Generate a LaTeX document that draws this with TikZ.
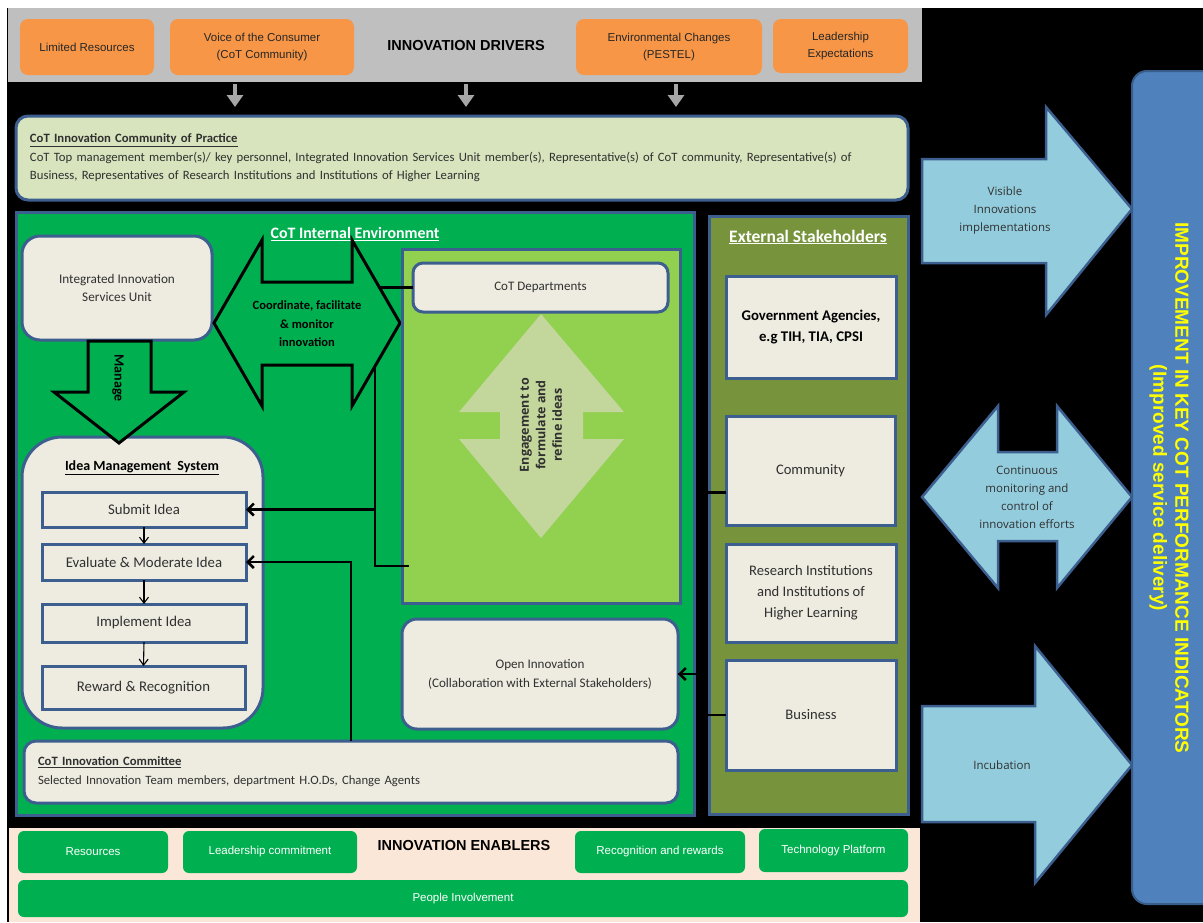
\documentclass[tikz,border=0pt]{standalone}
\usepackage{fontspec}
\setmainfont{Carlito}
\newfontfamily\arialf{Liberation Sans}
\newfontfamily\opensf{Open Sans}
\usetikzlibrary{arrows.meta,calc}

\newcommand\fsz[2]{\fontsize{#1}{#2}\selectfont}

\definecolor{bandgray}{HTML}{BFBFBF}
\definecolor{drvorange}{HTML}{F79646}
\definecolor{arrowgray}{HTML}{A6A6A6}
\definecolor{copfill}{HTML}{D7E4BD}
\definecolor{edgeblue}{HTML}{3C5F8F}
\definecolor{envgreen}{HTML}{00B050}
\definecolor{deptgreen}{HTML}{92D050}
\definecolor{cream}{HTML}{EEECE1}
\definecolor{olive}{HTML}{77933C}
\definecolor{diamondfill}{HTML}{C3D69B}
\definecolor{skyblue}{HTML}{93CDDD}
\definecolor{kpiblue}{HTML}{4F81BD}
\definecolor{kpiedge}{HTML}{385D8A}
\definecolor{enabpeach}{HTML}{FBE7D8}
\definecolor{kpiyellow}{HTML}{FFFF00}
\definecolor{bodytext}{HTML}{303030}

\begin{document}
\begin{tikzpicture}[x=1pt,y=-1pt,
  every node/.style={inner sep=0pt,outer sep=0pt},
  sz/.style 2 args={minimum width=#1pt,minimum height=#2pt},
  driver/.style={fill=drvorange,rounded corners=8pt,align=center,
    font=\arialf\fsz{11.5}{16.5},text=black!85},
  drvarrow/.style={draw=arrowgray,line width=4.5pt,-{Triangle[length=12pt,width=16pt]}},
  creambox/.style={fill=cream,draw=edgeblue,line width=3pt,align=center,text=bodytext},
  roundcream/.style={creambox,rounded corners=#1},
  stepbox/.style={creambox,font=\fsz{14.8}{16}},
  zone/.style={draw=edgeblue,line width=3pt},
  outlinearrow/.style={draw=black,line width=3pt,fill=envgreen,line join=miter},
  conn/.style={draw=black,line width=2.5pt},
  barb/.style={-{Straight Barb[length=6pt,width=12pt]}},
  steparrow/.style={draw=black,line width=1.1pt,-{Straight Barb[length=6pt,width=9pt]}},
  bigarrow/.style={fill=skyblue,draw=edgeblue,line width=2.5pt,line join=miter},
  arrowlbl/.style={align=center,font=\opensf\fsz{11.5}{18},text=bodytext},
  stake/.style={creambox,font=\fsz{14.6}{21}},
  enabler/.style={fill=envgreen,rounded corners=6pt,text=white,align=center,
    font=\arialf\fsz{11.5}{14}}
]
\useasboundingbox (0,0) rectangle (1203,922);
\fill[white] (0,0) rectangle (1203,922);
\fill[black] (7,8) rectangle (1203,922);

% ---------- innovation drivers ----------
\fill[bandgray] (8,8) rectangle (922,82);
\node[driver,sz={134}{56}] (limres) at (87,47) {Limited Resources};
\node[driver,sz={184}{56}] (voice) at (262,47) {Voice of the Consumer\\(CoT Community)};
\node[font=\arialf\bfseries\fsz{14.5}{17}] (drvtitle) at (466,46) {INNOVATION DRIVERS};
\node[driver,sz={186}{56}] (envchg) at (669,47) {Environmental Changes\\(PESTEL)};
\node[driver,sz={135}{54}] (leadexp) at (840.5,46) {Leadership\\Expectations};

\coordinate (da1) at (235,84);
\coordinate (da2) at (466,84);
\coordinate (da3) at (676,84);
\foreach \c in {da1,da2,da3} \draw[drvarrow] (\c) -- ++(0,23);

% ---------- community of practice ----------
\node[roundcream=12pt,fill=copfill,sz={892}{84},text width=864pt,align=left,
      font=\fsz{12.7}{18.5}] (cop) at (462,158)
  {\textbf{\underline{CoT Innovation Community of Practice}}\\
   CoT Top management member(s)/ key personnel, Integrated Innovation Services Unit member(s), Representative(s) of CoT community, Representative(s) of\\
   Business, Representatives of Research Institutions and Institutions of Higher Learning};

% ---------- internal environment ----------
\node[zone,fill=envgreen,sz={678}{603}] (intenv) at (355,513.5) {};
\node[text=white,font=\bfseries\fsz{15.9}{17}] (inttitle) at (355,234) {\underline{CoT Internal Environment}};

\node[roundcream=18pt,sz={190}{104},font=\fsz{13.2}{18}] (iisu) at (117,288)
  {Integrated Innovation\\Services Unit};

% coordinate / facilitate double arrow
\draw[outlinearrow] (214,323) -- (262,240) -- (262,282) -- (352,282) -- (352,240)
  -- (400,323) -- (352,406) -- (352,365) -- (262,365) -- (262,406) -- cycle;
\node[align=center,font=\bfseries\fsz{12.5}{18.5}] (coordlbl) at (307,324)
  {Coordinate, facilitate\\\& monitor\\innovation};
\coordinate (hexup) at (379,287.5);
\coordinate (hexlow) at (375,366);

% idea management system
\node[roundcream=40pt,sz={241}{291}] (ims) at (142.5,582.5) {};
\node[font=\bfseries\fsz{14}{16}] (imstitle) at (142,468) {\underline{Idea Management\ \ System}};
\node[stepbox,sz={204}{35}] (submit) at (144,509.5) {Submit Idea};
\node[stepbox,sz={204}{36}] (evaluate) at (144,562) {Evaluate \& Moderate Idea};
\node[stepbox,sz={204}{38}] (implement) at (144,623) {Implement Idea};
\node[stepbox,sz={203}{43}] (reward) at (143.5,687.5) {Reward \& Recognition};
\draw[steparrow] (submit.south) -- (evaluate.north);
\draw[steparrow] (evaluate.south) -- (implement.north);
\draw[steparrow] (implement.south) -- (reward.north);

% manage arrow
\draw[outlinearrow] (88,341) -- (151,341) -- (151,392) -- (184,392) -- (119,443)
  -- (54,392) -- (88,392) -- cycle;
\node[rotate=-90,font=\bfseries\fsz{14}{16}] (managelbl) at (118,378) {Manage};

% departments zone
\node[zone,fill=deptgreen,sz={278}{354}] (deptzone) at (541,426) {};
\node[roundcream=10pt,sz={255}{49},font=\fsz{13}{15}] (dept) at (540.5,287.5) {CoT Departments};
\fill[diamondfill] (541,314) -- (624,412) -- (583,412) -- (583,439) -- (624,439)
  -- (541,538) -- (459,439) -- (500,439) -- (500,412) -- (459,412) -- cycle;
\node[rotate=90,align=center,font=\opensf\bfseries\fsz{12.5}{16.5},text=bodytext] (engage)
  at (541,425) {Engagement to\\formulate and\\refine ideas};

\node[roundcream=15pt,sz={276}{110},font=\fsz{13.1}{19}] (openinn) at (540,674)
  {Open Innovation\\(Collaboration with External Stakeholders)};

\node[roundcream=12pt,sz={654}{62},text width=626pt,align=left,font=\fsz{12.7}{19}]
  (committee) at (351,772)
  {\textbf{\underline{CoT Innovation Committee}}\\
   Selected Innovation Team members, department H.O.Ds, Change Agents};

% ---------- external stakeholders ----------
\node[zone,fill=olive,sz={199}{598}] (extzone) at (808.5,515) {};
\node[text=white,font=\bfseries\fsz{17.5}{19}] (exttitle) at (808,237) {\underline{External Stakeholders}};
\node[stake,sz={170}{102},font=\bfseries\fsz{14.8}{21},text=black] (gov) at (811,327)
  {Government Agencies,\\e.g TIH, TIA, CPSI};
\node[stake,sz={169}{109}] (community) at (810.5,470.5) {Community};
\node[stake,sz={170}{98}] (research) at (811,593)
  {Research Institutions\\and Institutions of\\Higher Learning};
\node[stake,sz={170}{110}] (business) at (811,715) {Business};

% ---------- connectors ----------
\draw[conn] (hexup) -- (dept.west);
\draw[conn,barb] (hexlow) |- (submit.east);
\draw[conn] (hexlow) |- ($(deptzone.west)+(7,140)$);
\draw[conn,barb] (committee.north) |- (evaluate.east);
\draw[conn,barb] ($(community.west)+(0,22)$) -- ++(-25,0) |- (openinn.east);
\draw[conn] (business.west) -- ++(-25,0) |- (openinn.east);

% ---------- outcome arrows ----------
\draw[bigarrow] (922,159) -- (1046,159) -- (1046,107) -- (1132,209) -- (1046,315)
  -- (1046,263) -- (922,263) -- cycle;
\node[arrowlbl] (visible) at (1005,211) {Visible\\Innovations\\implementations};
\draw[bigarrow] (922,497) -- (998,406) -- (998,452) -- (1057,452) -- (1057,406)
  -- (1132,497) -- (1057,588) -- (1057,541) -- (998,541) -- (998,588) -- cycle;
\node[arrowlbl] (monitor) at (1027,497) {Continuous\\monitoring and\\control of\\innovation efforts};
\draw[bigarrow] (922,706) -- (1035,706) -- (1035,646) -- (1132,765) -- (1035,883)
  -- (1035,822) -- (922,822) -- cycle;
\node[arrowlbl] (incub) at (1002,765) {Incubation};

\node[draw=kpiedge,line width=2pt,fill=kpiblue,rounded corners=15pt,sz={93}{833}] (kpi)
  at (1178.5,487.5) {};
\node[rotate=-90,text=kpiyellow,align=center,font=\arialf\bfseries\fsz{19}{22}] (kpitext)
  at (1169,488) {IMPROVEMENT IN KEY COT PERFORMANCE INDICATORS\\(Improved service delivery)};

% ---------- innovation enablers ----------
\fill[enabpeach] (9,828) rectangle (920,922);
\node[enabler,sz={150}{42}] (resources) at (93,852) {Resources};
\node[enabler,sz={174}{42}] (leadcommit) at (270,852) {Leadership commitment};
\node[font=\arialf\bfseries\fsz{14.5}{17}] (enabtitle) at (464,845) {INNOVATION ENABLERS};
\node[enabler,sz={170}{42}] (recog) at (660,852) {Recognition and rewards};
\node[enabler,sz={149}{43}] (techplat) at (833.5,850.5) {Technology Platform};
\node[enabler,sz={890}{37}] (people) at (463,898.5) {People Involvement};
\end{tikzpicture}
\end{document}
